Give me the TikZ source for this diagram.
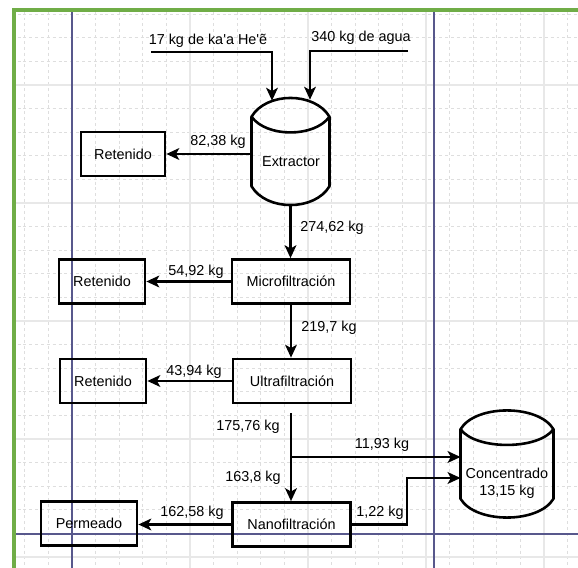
\documentclass[tikz,border=0pt]{standalone}
\usepackage{fontspec}
\newfontfamily\diafont{Liberation Sans}
\usepackage{tikz}
\usetikzlibrary{positioning, calc, arrows.meta}
\definecolor{pagegreen}{RGB}{112,173,71}
\definecolor{pageblue}{RGB}{88,88,140}
\definecolor{gridminor}{RGB}{222,222,222}
\definecolor{gridmajor}{RGB}{232,232,232}
\tikzset{
    box/.style={draw, line width=2.3pt, minimum height=1.32cm, inner sep=0pt},
    tank/.style={minimum width=#1, minimum height=2.06cm, inner sep=0pt},
    tankline/.style={line width=2.2pt, line join=round},
    flow/.style={-{Stealth[length=11pt, width=10pt, inset=2.8pt]}, line width=2pt},
    qty/.style={inner sep=1pt}
}

\begin{document}
\begin{tikzpicture}[x=0.03cm, y=-0.03cm, line width=0.8pt,
    font=\diafont\fontsize{12.3}{14.5}\selectfont]

    % =========================================================================
    % SHEET: grid, page breaks and frame
    % =========================================================================
    \useasboundingbox (0,0) rectangle (578,568);
    \fill[white] (0,0) rectangle (578,568);
    \begin{scope}
        \clip (14,10) rectangle (578,568);
        % Minor grid
        \foreach \gx in {0,...,24}
            \draw[gridminor, dash pattern=on 2.5pt off 2.5pt, line width=0.6pt] ({1.2+23.6*\gx},0) -- ++(0,568);
        \foreach \gy in {0,...,23}
            \draw[gridminor, dash pattern=on 2.5pt off 2.5pt, line width=0.6pt] (0,{14.2+23.6*\gy}) -- ++(578,0);
        % Major grid
        \foreach \gx in {72,190,308,426,544}
            \draw[gridmajor, line width=0.9pt] (\gx,0) -- ++(0,568);
        \foreach \gy in {85,203,321,439,557}
            \draw[gridmajor, line width=0.9pt] (0,\gy) -- ++(578,0);
        % Page breaks
        \draw[pageblue, line width=1.3pt] (72,0) -- (72,568);
        \draw[pageblue, line width=1.3pt] (434,0) -- (434,568);
        \draw[pageblue, line width=1.3pt] (0,534) -- (578,534);
    \end{scope}
    \draw[pagegreen, line width=3.4pt] (14,568) -- (14,10) -- (578,10);

    % =========================================================================
    % UNITS
    % =========================================================================
    \node[tank=2.31cm] (extractor) at (290.5,151.5) {};
    \node (extxt) at (291,162) {Extractor};

    \node[box, minimum width=2.52cm] (ret1) at (123,154) {Retenido};

    \node[box, minimum width=3.54cm] (micro) at (291,281.5) {Microfiltración};
    \node[box, minimum width=2.58cm] (ret2) at (102,281.5) {Retenido};

    \node[box, minimum width=3.54cm] (ultra) at (292,381) {Ultrafiltración};
    \node[box, minimum width=2.58cm] (ret3) at (103,381) {Retenido};

    \node[box, minimum width=3.54cm] (nano) at (291.5,524.5) {Nanofiltración};
    \node[box, minimum width=2.88cm] (perm) at (89,523.5) {Permeado};

    \node[tank=2.76cm] (conc) at (507,464) {};
    \node[align=center] (conctxt) at (507,483.5) {Concentrado\\13,15 kg};

    % Tank outlines (lens top, rounded bottom)
    \foreach \tk in {extractor, conc} {
        \draw[tankline] (\tk.north west) .. controls +(15,-25) and +(-15,-25) .. (\tk.north east)
              -- (\tk.south east) .. controls +(-15,25) and +(15,25) .. (\tk.south west) -- cycle;
        \draw[tankline] (\tk.north west) .. controls +(15,21) and +(-15,21) .. (\tk.north east);
    }

    % =========================================================================
    % FEEDS
    % =========================================================================
    \node (feedA) at (208,41) {17 kg de ka'a He'ẽ};
    \node (feedB) at (361,38) {340 kg de agua};
    \coordinate (feedA start) at (151,52);
    \coordinate (feedB end) at (408,51);
    \coordinate (ext in1) at ($(extractor.north)+(-18.5,-16)$);
    \coordinate (ext in2) at ($(extractor.north)+(19.5,-17)$);
    \coordinate (ext out) at ($(extractor.south)+(0,18.5)$);

    \draw[flow] (feedA start) -| (ext in1);
    \draw[flow] (feedB end) -| (ext in2);

    % =========================================================================
    % STREAMS
    % =========================================================================
    \draw[flow] (ret1 -| extractor.west) -- (ret1.east);
    \node[qty] (m1) at (218,142) {82,38 kg};

    \draw[flow] (ext out) -- (ext out |- micro.north);
    \node[qty] (m2) at (332,228) {274,62 kg};

    \draw[flow] (micro.west) -- (ret2.east);
    \node[qty] (m3) at (196,272) {54,92 kg};

    \draw[flow] (micro.south) -- (micro.south |- ultra.north);
    \node[qty] (m4) at (329,328) {219,7 kg};

    \draw[flow] (ultra.west) -- (ret3.east);
    \node[qty] (m5) at (194,372) {43,94 kg};

    % Ultrafiltration permeate, split to concentrate and nanofiltration
    \coordinate (ultra out) at ($(ultra.south)+(-1,9)$);
    \coordinate (split) at (291,457);
    \draw[flow] (ultra out) -- (ultra out |- nano.north);
    \node[qty] (m6) at (248,427) {175,76 kg};
    \draw[flow] (split) -- (split -| conc.west);
    \node[qty] (m7) at (382,445) {11,93 kg};
    \node[qty] (m8) at (253,478) {163,8 kg};

    \draw[flow] (nano.west) -- (nano.west -| perm.east);
    \node[qty] (m9) at (192,513) {162,58 kg};

    \draw[flow] (nano.east) -- ++(55,0) |- ($(conc.west)+(0,14)$);
    \node[qty] (m10) at (380,513) {1,22 kg};

\end{tikzpicture}
\end{document}
